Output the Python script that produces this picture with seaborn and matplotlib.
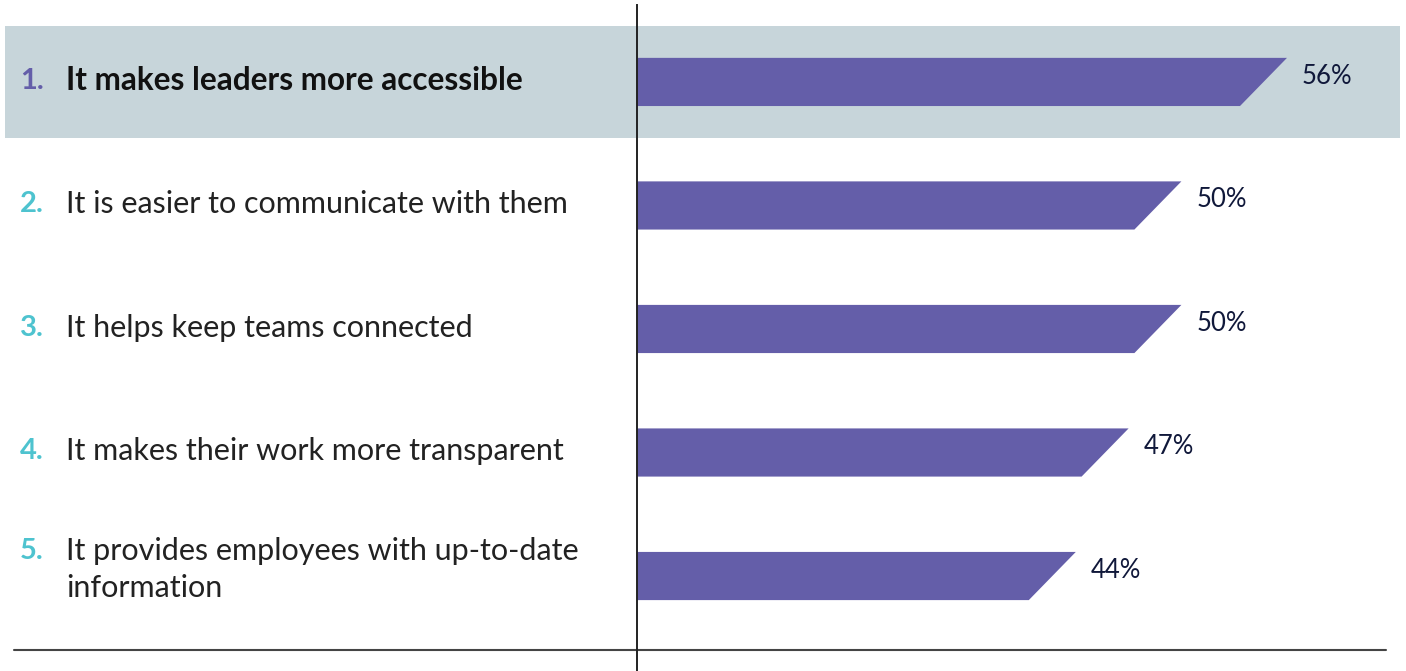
import matplotlib
matplotlib.use("Agg")
import matplotlib.pyplot as plt
from matplotlib.patches import Polygon
import seaborn as sns
import pandas as pd

categories = [
    "It makes leaders more accessible",
    "It is easier to communicate with them",
    "It helps keep teams connected",
    "It makes their work more transparent",
    "It provides employees with up-to-date\ninformation",
]
ranks = ["1.", "2.", "3.", "4.", "5."]
values = [56, 50, 50, 47, 44]
value_labels = ["56%", "50%", "50%", "47%", "44%"]

BAR = "#645EA9"
BAND = "#C7D5DA"
TEAL = "#4EC3CF"
NAVY = "#10183A"

sns.set_theme(style="white")
plt.rcParams["font.family"] = ["Lato", "DejaVu Sans"]

df = pd.DataFrame({"cat": categories, "val": values})

W, H = 1406, 671
fig = plt.figure(figsize=(W / 100, H / 100), dpi=100)
ax_left_px = 637
ax = fig.add_axes([ax_left_px / W, 0, (W - ax_left_px) / W, (H - 5) / H])

sns.barplot(data=df, y="cat", x="val", orient="h", color=BAR, width=0.39,
            saturation=1, ax=ax, zorder=3)

px_per_unit = 17.6
x0 = (ax_left_px - 301.4) / px_per_unit
ax.set_xlim(x0, x0 + (W - ax_left_px) / px_per_unit)
ax.set_ylim(4.769, -0.623)

# slanted bar ends
slant = 47 / px_per_unit
for p in list(ax.patches):
    x, y, w, h = p.get_x(), p.get_y(), p.get_width(), p.get_height()
    poly = Polygon([(x, y), (x + w, y), (x + w - slant, y + h), (x, y + h)],
                   closed=True, facecolor=BAR, edgecolor="none", zorder=3)
    p.remove()
    ax.add_patch(poly)

axw = W - ax_left_px
def fx(px):
    return (px - ax_left_px) / axw

# highlight band
ax.axhspan(-0.45, 0.45, xmin=fx(5), xmax=fx(1400), color=BAND, clip_on=False,
           zorder=0, lw=0)

# bottom rule
ax.plot([fx(14), fx(1386)], [4.60, 4.60], transform=ax.get_yaxis_transform(),
        color="#444444", lw=1.5, clip_on=False, zorder=2)

ytr = ax.get_yaxis_transform()
for i, (cat, rk, v, vl) in enumerate(zip(categories, ranks, values, value_labels)):
    first = i == 0
    multi = "\n" in cat
    text_y = i - 0.053 if multi else i - 0.01
    num_y = i - 0.20 if multi else i - 0.01
    ax.text(fx(20), num_y, rk, transform=ytr, ha="left", va="center",
            fontsize=21, fontweight="bold", color=BAR if first else TEAL)
    ax.text(fx(66), text_y, cat, transform=ytr, ha="left", va="center",
            fontsize=22.7 if first else 22, fontweight="bold" if first else "normal",
            color="#111111" if first else "#222222", linespacing=1.4)
    ax.text(v + 15 / px_per_unit, i - 0.045, vl, ha="left", va="center",
            fontsize=18.5, color=NAVY)

ax.set_xlabel("")
ax.set_ylabel("")
ax.set_xticks([])
ax.set_yticks([])
for s in ["top", "right", "bottom"]:
    ax.spines[s].set_visible(False)
ax.spines["left"].set_color("#222222")
ax.spines["left"].set_linewidth(1.4)
ax.spines["left"].set_zorder(5)
ax.patch.set_alpha(0)

fig.savefig("out.png", dpi=100)
